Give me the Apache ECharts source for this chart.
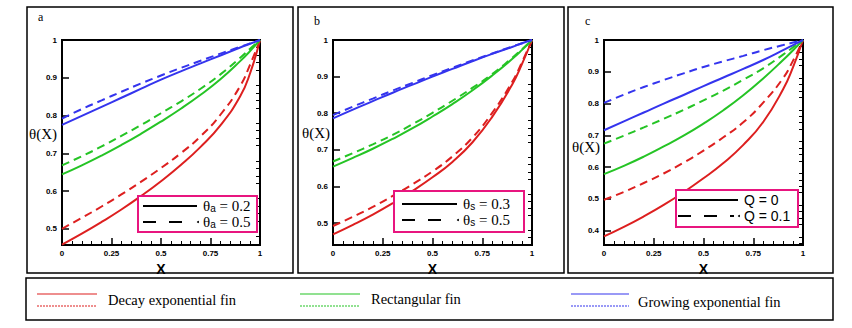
<!DOCTYPE html>
<html>
<head>
<meta charset="utf-8">
<title>fin temperature</title>
<script src="https://cdn.jsdelivr.net/npm/echarts@6/dist/echarts.min.js"></script>
<style>
    html, body { margin: 0; padding: 0; background: #fff; }
    #chart { width: 852px; height: 328px; }
</style>
</head>
<body>
<div id="chart"></div>
<script>
// X positions shared by all curves
var xs = [0, 0.1, 0.2, 0.3, 0.4, 0.5, 0.6, 0.7, 0.8, 0.9, 0.95, 1];

// panel a : theta_a = 0.2 (solid) / 0.5 (dashed)
var aDecaySolid = [0.458, 0.487, 0.518, 0.551, 0.587, 0.626, 0.669, 0.717, 0.774, 0.851, 0.912, 1];
var aDecayDash = [0.500, 0.529, 0.559, 0.591, 0.625, 0.661, 0.700, 0.745, 0.802, 0.878, 0.935, 1];
var aRectSolid = [0.644, 0.668, 0.694, 0.722, 0.752, 0.784, 0.818, 0.855, 0.896, 0.944, 0.971, 1];
var aRectDash = [0.668, 0.692, 0.718, 0.746, 0.775, 0.806, 0.837, 0.871, 0.909, 0.953, 0.977, 1];
var aGrowSolid = [0.775, 0.799, 0.823, 0.847, 0.871, 0.895, 0.917, 0.938, 0.959, 0.980, 0.990, 1];
var aGrowDash = [0.792, 0.817, 0.840, 0.863, 0.885, 0.906, 0.926, 0.945, 0.964, 0.982, 0.991, 1];

// panel b : theta_s = 0.3 (solid) / 0.5 (dashed)
var bDecaySolid = [0.469, 0.495, 0.523, 0.554, 0.588, 0.625, 0.667, 0.720, 0.790, 0.878, 0.935, 1];
var bDecayDash = [0.492, 0.517, 0.544, 0.574, 0.606, 0.641, 0.682, 0.733, 0.801, 0.885, 0.940, 1];
var bRectSolid = [0.654, 0.678, 0.703, 0.730, 0.759, 0.791, 0.825, 0.862, 0.903, 0.948, 0.973, 1];
var bRectDash = [0.668, 0.691, 0.715, 0.741, 0.770, 0.801, 0.834, 0.869, 0.907, 0.951, 0.975, 1];
var bGrowSolid = [0.786, 0.810, 0.833, 0.856, 0.878, 0.900, 0.921, 0.942, 0.962, 0.981, 0.991, 1];
var bGrowDash = [0.795, 0.818, 0.840, 0.862, 0.883, 0.904, 0.924, 0.944, 0.963, 0.982, 0.991, 1];

// panel c : Q = 0 (solid) / 0.1 (dashed)
var cDecaySolid = [0.382, 0.412, 0.445, 0.481, 0.521, 0.565, 0.613, 0.670, 0.742, 0.845, 0.915, 1];
var cDecayDash = [0.497, 0.522, 0.550, 0.580, 0.614, 0.652, 0.694, 0.741, 0.803, 0.880, 0.935, 1];
var cRectSolid = [0.578, 0.604, 0.633, 0.665, 0.699, 0.737, 0.779, 0.826, 0.879, 0.937, 0.968, 1];
var cRectDash = [0.674, 0.699, 0.725, 0.752, 0.780, 0.810, 0.841, 0.875, 0.911, 0.954, 0.977, 1];
var cGrowSolid = [0.716, 0.744, 0.772, 0.800, 0.827, 0.855, 0.882, 0.909, 0.937, 0.968, 0.984, 1];
var cGrowDash = [0.802, 0.828, 0.852, 0.874, 0.895, 0.915, 0.933, 0.950, 0.968, 0.984, 0.992, 1];

// axis ranges and tick labels
var yMinA = 0.457, yMinB = 0.44, yMinC = 0.355;
var yMajorAB = [0.5, 0.6, 0.7, 0.8, 0.9, 1];
var yMajorC = [0.4, 0.5, 0.6, 0.7, 0.8, 0.9, 1];
var xTickStep = 0.25;

// text
var panelLetters = ['a', 'b', 'c'];
var legendParams = [['θ', 'a', ' = 0.2', ' = 0.5'], ['θ', 's', ' = 0.3', ' = 0.5'], ['Q', '', ' = 0', ' = 0.1']];
var finNames = ['Decay exponential fin', 'Rectangular fin', 'Growing exponential fin'];

var RED = '#dd1f1f', GREEN = '#25c425', BLUE = '#3434ee', PINK = '#e8157f';
var finColors = [RED, GREEN, BLUE];

(function () {
    var chart = echarts.init(document.getElementById('chart'), null, { renderer: 'svg' });

    // minor tick values every 0.02 between min and 1, skipping majors
    function minorTicks(min) {
        var out = [];
        for (var i = Math.ceil(min / 0.02 - 1e-9); i < 50; i++) {
            if (i % 5 !== 0) out.push(+(i * 0.02).toFixed(2));
        }
        return out;
    }

    function pairs(arr) {
        return xs.map(function (x, i) { return [x, arr[i]]; });
    }

    var gridLefts = [62, 333, 604];
    var gridWidths = [198, 199, 199];
    var mins = [yMinA, yMinB, yMinC];
    var majors = [yMajorAB, yMajorAB, yMajorC];

    var labelFont = { fontFamily: 'Liberation Sans', fontWeight: 'bold', fontSize: 8, color: '#000' };

    var grids = [], xAxes = [], yAxes = [];
    for (var p = 0; p < 3; p++) {
        grids.push({ left: gridLefts[p], top: 40, width: gridWidths[p], height: 205, show: true, borderColor: '#000', borderWidth: 2, backgroundColor: 'transparent' });
        xAxes.push({
            type: 'value', gridIndex: p, min: 0, max: 1, interval: xTickStep,
            name: 'X', nameLocation: 'middle', nameGap: 12,
            nameTextStyle: { fontFamily: 'Liberation Sans', fontWeight: 'bold', fontSize: 14, color: '#000', verticalAlign: 'top' },
            axisLine: { lineStyle: { color: '#000', width: 2 } },
            axisTick: { inside: true, length: 7, lineStyle: { color: '#000', width: 1.5 } },
            minorTick: { show: true, splitNumber: 5, length: 4, lineStyle: { color: '#000', width: 1 } },
            splitLine: { show: false },
            axisLabel: Object.assign({ margin: 4, formatter: function (v) { return String(v); } }, labelFont)
        });
        // major ticks + labels
        yAxes.push({
            type: 'value', gridIndex: p, min: mins[p], max: 1,
            axisLine: { lineStyle: { color: '#000', width: 2 } },
            axisTick: { inside: true, length: 7, customValues: majors[p], lineStyle: { color: '#000', width: 1.5 } },
            axisLabel: Object.assign({ margin: 5, customValues: majors[p], formatter: function (v) { return String(v); } }, labelFont),
            splitLine: { show: false }
        });
        // minor ticks only
        yAxes.push({
            type: 'value', gridIndex: p, min: mins[p], max: 1,
            axisLine: { show: false },
            axisTick: { inside: true, length: 4, customValues: minorTicks(mins[p]), lineStyle: { color: '#000', width: 1 } },
            axisLabel: { show: false },
            splitLine: { show: false }
        });
    }

    var panelData = [
        [aDecaySolid, aDecayDash, aRectSolid, aRectDash, aGrowSolid, aGrowDash],
        [bDecaySolid, bDecayDash, bRectSolid, bRectDash, bGrowSolid, bGrowDash],
        [cDecaySolid, cDecayDash, cRectSolid, cRectDash, cGrowSolid, cGrowDash]
    ];

    var series = [];
    panelData.forEach(function (list, p) {
        list.forEach(function (arr, k) {
            series.push({
                type: 'line', xAxisIndex: p, yAxisIndex: p * 2,
                data: pairs(arr), smooth: 0.5, showSymbol: false, silent: true,
                lineStyle: { color: finColors[Math.floor(k / 2)], width: 2, type: k % 2 ? [8, 5] : 'solid' }
            });
        });
    });

    // frames, letters, theta(X) labels, inner legends, bottom legend
    var graphics = [];
    var frames = [[27, 7, 266, 266], [298, 7, 266, 266], [568, 7, 265, 266]];
    var letterPos = [[38, 17], [314, 21], [585, 21]];
    var thetaPos = [[29, 134], [302, 133], [572, 147]];
    var boxes = [[138, 196, 119, 36], [394, 191, 130, 41], [676, 190, 122, 37]];
    var sampleX = [[143, 197], [402, 457], [678, 738]];
    var sampleY = [[206, 222], [204, 220], [200, 216]];

    for (var i = 0; i < 3; i++) {
        var f = frames[i];
        graphics.push({ type: 'rect', shape: { x: f[0], y: f[1], width: f[2], height: f[3] }, style: { fill: 'none', stroke: '#000', lineWidth: 1.5 }, silent: true });
        graphics.push({ type: 'text', x: letterPos[i][0], y: letterPos[i][1], style: { text: panelLetters[i], font: '12px "Liberation Serif"', fill: '#000', verticalAlign: 'middle' } });
        graphics.push({ type: 'text', x: thetaPos[i][0], y: thetaPos[i][1], style: { text: 'θ(X)', font: '15px "Liberation Serif"', fill: '#000', verticalAlign: 'middle' } });

        var b = boxes[i];
        graphics.push({ type: 'rect', z: 10, shape: { x: b[0], y: b[1], width: b[2], height: b[3] }, style: { fill: '#fff', stroke: PINK, lineWidth: 2 } });
        graphics.push({ type: 'line', z: 11, shape: { x1: sampleX[i][0], y1: sampleY[i][0], x2: sampleX[i][1], y2: sampleY[i][0] }, style: { stroke: '#000', lineWidth: 2 } });
        graphics.push({ type: 'line', z: 11, shape: { x1: sampleX[i][0], y1: sampleY[i][1], x2: sampleX[i][1] - 4, y2: sampleY[i][1] }, style: { stroke: '#000', lineWidth: 2, lineDash: [13, 13] } });
        graphics.push({ type: 'circle', z: 11, shape: { cx: sampleX[i][1] + 1, cy: sampleY[i][1], r: 1 }, style: { fill: '#000' } });
        var lp = legendParams[i];
        var serifMain = i < 2;
        [2, 3].forEach(function (k, j) {
            graphics.push({
                type: 'text', z: 11, x: sampleX[i][1] + 6, y: sampleY[i][j],
                style: {
                    text: '{m|' + lp[0] + '}' + (lp[1] ? '{s|' + lp[1] + '}' : '') + '{m|' + lp[k] + '}',
                    verticalAlign: 'middle', fill: '#000', lineHeight: 12,
                    rich: {
                        m: { fontFamily: serifMain ? 'Liberation Serif' : 'Liberation Sans', fontSize: serifMain ? 15 : 14, lineHeight: 12, fill: '#000' },
                        s: { fontFamily: 'Liberation Sans', fontSize: 10, lineHeight: 10, fill: '#000', padding: [5, 0, 0, 0] }
                    }
                }
            });
        });
    }

    graphics.push({ type: 'rect', shape: { x: 26, y: 278, width: 807, height: 42 }, style: { fill: 'none', stroke: '#000', lineWidth: 1.5 } });
    var finLineX = [[37, 97], [300, 360], [571, 629]];
    var finTextX = [108, 371, 638];
    var finTextY = [300, 299, 302];
    for (var j = 0; j < 3; j++) {
        graphics.push({ type: 'line', shape: { x1: finLineX[j][0], y1: 294, x2: finLineX[j][1], y2: 294 }, style: { stroke: finColors[j], lineWidth: 1.2 } });
        graphics.push({ type: 'line', shape: { x1: finLineX[j][0], y1: 306, x2: finLineX[j][1], y2: 306 }, style: { stroke: finColors[j], lineWidth: 1.2, lineDash: [2, 1] } });
        graphics.push({ type: 'text', x: finTextX[j], y: finTextY[j], style: { text: finNames[j], font: '14.5px "Liberation Serif"', fill: '#000', verticalAlign: 'middle' } });
    }

    var option = {
        animation: false,
        backgroundColor: '#fff',
        grid: grids,
        xAxis: xAxes,
        yAxis: yAxes,
        series: series,
        graphic: graphics
    };
    chart.setOption(option);
})();
</script>
</body>
</html>
